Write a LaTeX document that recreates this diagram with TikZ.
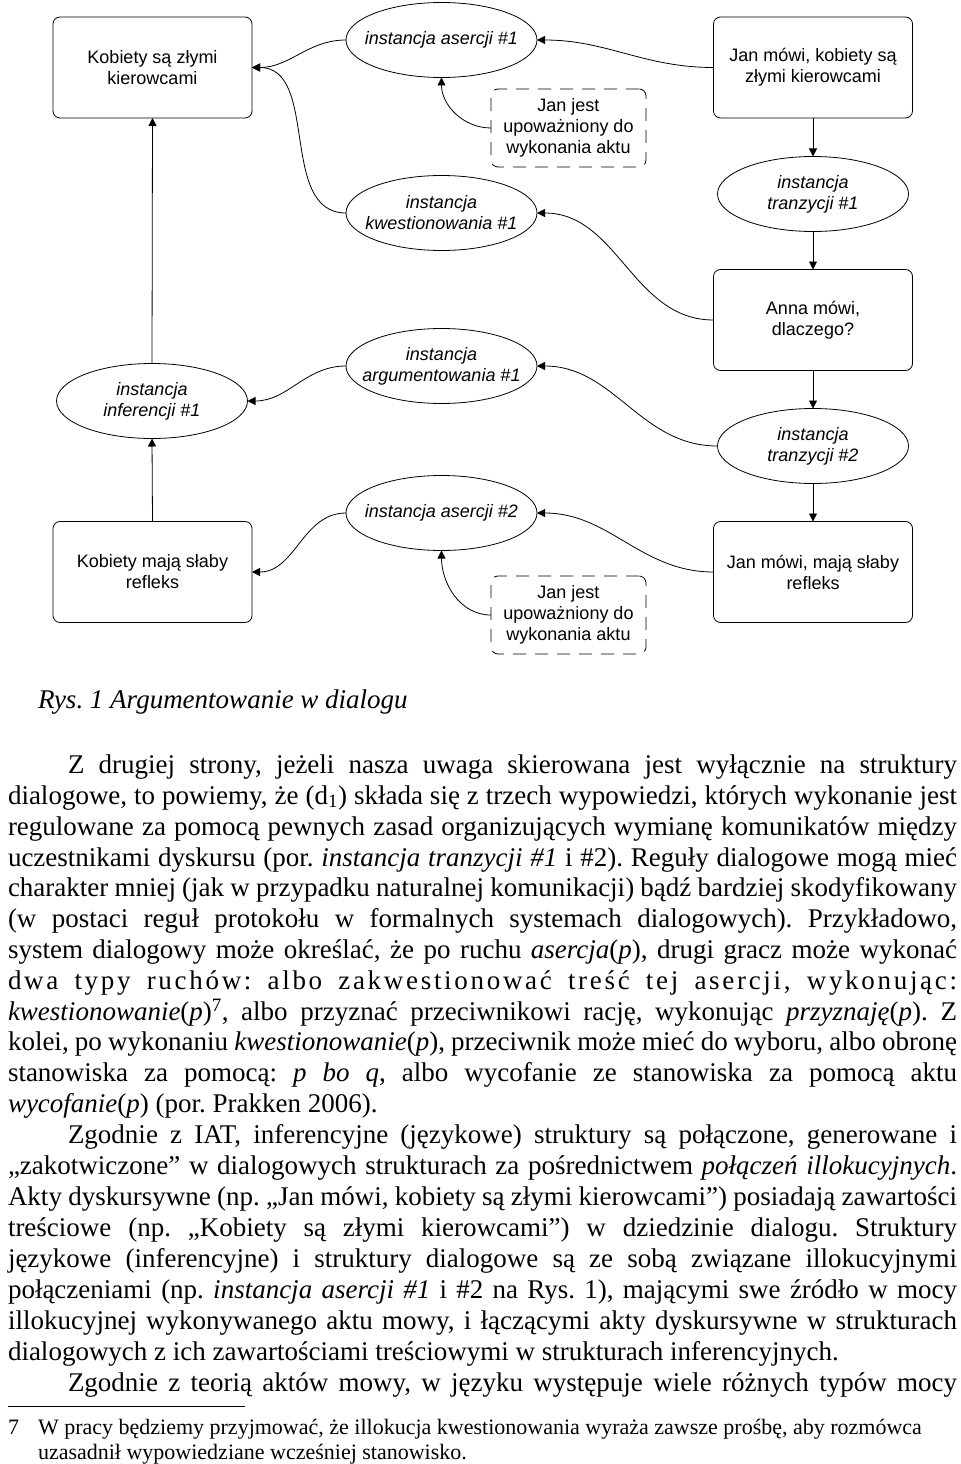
\documentclass[tikz,border=0pt]{standalone}
\usepackage{fontspec}
\setmainfont{Liberation Serif}
\newfontfamily\diagfont{Liberation Sans}
\usetikzlibrary{shapes.geometric,arrows.meta}
\frenchspacing
\begin{document}
\frenchspacing
\begin{tikzpicture}[x=1bp,y=-1bp,
  every node/.style={inner sep=0pt, outer sep=0pt},
  dfont/.style={font=\diagfont\fontsize{18bp}{21bp}\selectfont},
  box/.style={draw, rounded corners=7bp, minimum width=199bp, minimum height=101bp, align=center, dfont, line width=0.8bp},
  ell/.style={draw, ellipse, minimum width=191bp, minimum height=75bp, line width=0.8bp},
  elltxt/.style={align=center, font=\diagfont\itshape\fontsize{18bp}{21bp}\selectfont},
  dbox/.style={draw, dash pattern=on 13bp off 9bp, rounded corners=7bp, minimum width=155bp, minimum height=78bp, align=center, dfont, line width=0.8bp},
  arr/.style={-{Triangle[length=8bp,width=8bp]}, line width=0.8bp},
  txt/.style={anchor=base west, font=\frenchspacing\fontsize{27bp}{31bp}\selectfont},
  ftxt/.style={anchor=base west, font=\frenchspacing\fontsize{22bp}{25bp}\selectfont}
]
\useasboundingbox[fill=white] (0,0) rectangle (960,1464);

% diagram nodes
\node[box] (k1) at (152.5,67.5) {Kobiety są złymi\\kierowcami};
\node[box] (j1) at (813,67.5) {Jan mówi, kobiety są\\złymi kierowcami};
\node[ell, label={[elltxt]center:instancja asercji \#1}] (ase1) at (441.5,40) {};
\node[dbox] (d1) at (568.5,128) {Jan jest\\upoważniony do\\wykonania aktu};
\node[ell, label={[elltxt]center:{instancja\\kwestionowania \#1}}] (kw1) at (441.5,213) {};
\node[ell, label={[elltxt]center:{instancja\\tranzycji \#1}}] (tr1) at (813,194) {};
\node[box] (anna) at (813,320) {Anna mówi,\\dlaczego?};
\node[ell, label={[elltxt]center:{instancja\\argumentowania \#1}}] (arg1) at (441.5,366) {};
\node[ell, label={[elltxt]center:{instancja\\inferencji \#1}}] (inf1) at (152,401) {};
\node[ell, label={[elltxt]center:{instancja\\tranzycji \#2}}] (tr2) at (813,446) {};
\node[ell, label={[elltxt]center:instancja asercji \#2}] (ase2) at (441.5,513) {};
\node[box] (k2) at (152.5,572) {Kobiety mają słaby\\refleks};
\node[box] (j2) at (813,572) {Jan mówi, mają słaby\\refleks};
\node[dbox] (d2) at (568.5,615) {Jan jest\\upoważniony do\\wykonania aktu};

% connectors
\draw[arr] (ase1.west) to[out=180,in=0] (k1.east);
\draw[arr] (kw1.west) to[out=180,in=0] (k1.east);
\draw[arr] (j1.west) to[out=180,in=0] (ase1.east);
\draw[arr] (d1.west) to[out=180,in=-90] (ase1.south);
\draw[arr] (j1.south) -- (tr1.north);
\draw[arr] (tr1.south) -- (anna.north);
\draw[arr] (anna.west) to[out=180,in=0] (kw1.east);
\draw[arr] (anna.south) -- (tr2.north);
\draw[arr] (tr2.west) to[out=180,in=0] (arg1.east);
\draw[arr] (tr2.south) -- (j2.north);
\draw[arr] (j2.west) to[out=180,in=0] (ase2.east);
\draw[arr] (d2.west) to[out=180,in=-90] (ase2.south);
\draw[arr] (arg1.west) to[out=180,in=0] (inf1.east);
\draw[arr] (ase2.west) to[out=180,in=0] (k2.east);
\draw[arr] (k2.north) -- (inf1.south);
\draw[arr] (inf1.north) -- (k1.south);

% caption
\node[txt, font=\frenchspacing\itshape\fontsize{27bp}{31bp}\selectfont] (cap) at (38,708) {Rys. 1 Argumentowanie w dialogu};

% body text
\node[txt] (l1) at (68,773) {\hbox to 889bp{Z drugiej strony, jeżeli nasza uwaga skierowana jest wyłącznie na struktury}};
\node[txt] (l2) at (8,804) {\hbox to 949bp{dialogowe, to powiemy, że (d\textsubscript{1}) składa się z trzech wypowiedzi, których wykonanie jest}};
\node[txt] (l3) at (8,835) {\hbox to 949bp{regulowane za pomocą pewnych zasad organizujących wymianę komunikatów między}};
\node[txt] (l4) at (8,866) {\hbox to 949bp{uczestnikami dyskursu (por. \textit{instancja tranzycji \#1} i \#2). Reguły dialogowe mogą mieć}};
\node[txt] (l5) at (8,896) {\hbox to 949bp{charakter mniej (jak w przypadku naturalnej komunikacji) bądź bardziej skodyfikowany}};
\node[txt] (l6) at (8,927) {\hbox to 949bp{(w postaci reguł protokołu w formalnych systemach dialogowych). Przykładowo,}};
\node[txt] (l7) at (8,958) {\hbox to 949bp{system dialogowy może określać, że po ruchu \textit{asercja}(\textit{p}), drugi gracz może wykonać}};
\node[txt] (l8) at (8,989) {\hbox to 949bp{\addfontfeature{LetterSpace=10}dwa typy ruchów: albo zakwestionować treść tej asercji, wykonując:}};
\node[txt] (l9) at (8,1020) {\hbox to 949bp{\textit{kwestionowanie}(\textit{p})\textsuperscript{7}, albo przyznać przeciwnikowi rację, wykonując \textit{przyznaję}(\textit{p}). Z}};
\node[txt] (l10) at (8,1050) {\hbox to 949bp{kolei, po wykonaniu \textit{kwestionowanie}(\textit{p}), przeciwnik może mieć do wyboru, albo obronę}};
\node[txt] (l11) at (8,1081) {\hbox to 949bp{stanowiska za pomocą: \textit{p bo q}, albo wycofanie ze stanowiska za pomocą aktu}};
\node[txt] (l12) at (8,1112) {\textit{wycofanie}(\textit{p}) (por. Prakken 2006).};
\node[txt] (l13) at (68,1143) {\hbox to 889bp{Zgodnie z IAT, inferencyjne (językowe) struktury są połączone, generowane i}};
\node[txt] (l14) at (8,1174) {\hbox to 949bp{„zakotwiczone” w dialogowych strukturach za pośrednictwem \textit{połączeń illokucyjnych}.}};
\node[txt] (l15) at (8,1205) {\hbox to 949bp{Akty dyskursywne (np. „Jan mówi, kobiety są złymi kierowcami”) posiadają zawartości}};
\node[txt] (l16) at (8,1236) {\hbox to 949bp{treściowe (np. „Kobiety są złymi kierowcami”) w dziedzinie dialogu. Struktury}};
\node[txt] (l17) at (8,1267) {\hbox to 949bp{językowe (inferencyjne) i struktury dialogowe są ze sobą związane illokucyjnymi}};
\node[txt] (l18) at (8,1298) {\hbox to 949bp{połączeniami (np. \textit{instancja asercji \#1} i \#2 na Rys. 1), mającymi swe źródło w mocy}};
\node[txt] (l19) at (8,1329) {\hbox to 949bp{illokucyjnej wykonywanego aktu mowy, i łączącymi akty dyskursywne w strukturach}};
\node[txt] (l20) at (8,1360) {dialogowych z ich zawartościami treściowymi w strukturach inferencyjnych.};
\node[txt] (l21) at (68,1391) {\hbox to 889bp{Zgodnie z teorią aktów mowy, w języku występuje wiele różnych typów mocy}};

% footnote
\draw[line width=1bp] (8,1406) -- (245,1406);
\node[ftxt] (fn) at (8,1434) {7};
\node[ftxt] (f1) at (38,1434) {W pracy będziemy przyjmować, że illokucja kwestionowania wyraża zawsze prośbę, aby rozmówca};
\node[ftxt] (f2) at (38,1459) {uzasadnił wypowiedziane wcześniej stanowisko.};
\end{tikzpicture}
\end{document}
